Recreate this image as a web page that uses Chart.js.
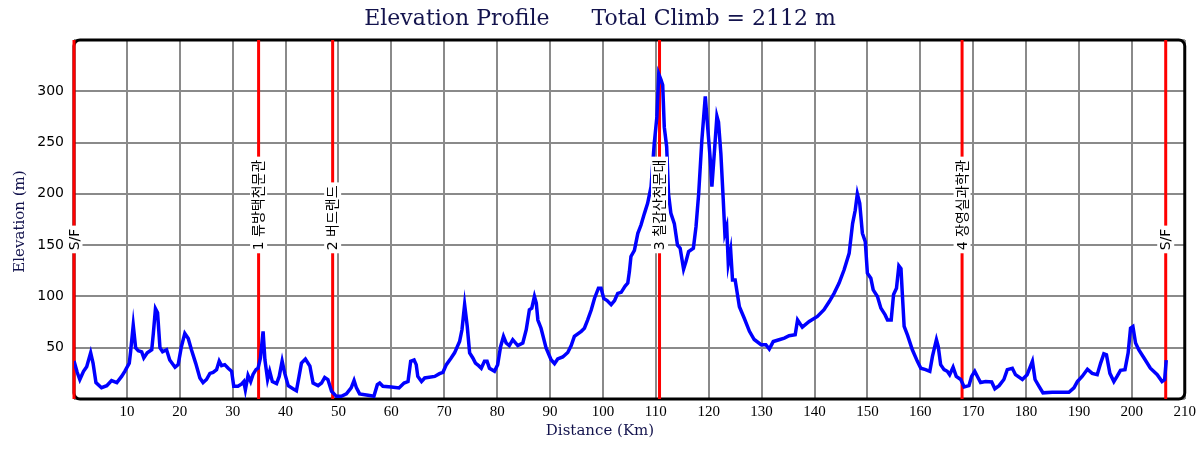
<!DOCTYPE html>
<html>
<head>
<meta charset="utf-8">
<script src="https://cdn.jsdelivr.net/npm/chart.js@4.4.1/dist/chart.umd.min.js"></script>
<style>
html,body{margin:0;padding:0;background:#fff;}
#wrap{width:1200px;height:450px;}
</style>
</head>
<body>
<div id="wrap"><canvas id="c" width="1200" height="450"></canvas></div>
<script>
const distanceKm = [0,0.6,1.1,1.8,2.4,3.15,3.6,4.15,5.2,6.2,7.1,8.1,9.0,9.6,10.45,10.7,11.2,11.65,12.15,12.8,13.2,13.85,14.7,15.0,15.4,15.8,16.25,16.75,17.5,18.1,19.1,19.7,20.3,20.95,21.6,22.2,23.0,23.8,24.4,25.05,25.7,26.3,26.95,27.45,27.9,28.5,29.15,29.8,30.2,31.0,31.7,32.1,32.4,32.9,33.4,33.85,34.4,34.8,35.25,35.75,36.1,36.6,37.0,37.5,38.3,38.8,39.35,39.85,40.5,41.4,42.05,42.55,43.0,43.75,44.6,45.2,46.15,46.8,47.4,48.0,48.7,49.6,50.55,51.5,52.4,52.95,53.4,54.0,55.6,56.7,57.35,57.8,58.4,60.0,61.45,62.4,63.15,63.65,64.3,64.7,65.0,65.7,66.3,68.2,69.1,69.75,70.4,71.3,71.95,72.9,73.35,73.85,74.35,74.8,75.4,75.9,76.5,77.0,77.6,78.1,78.55,79.5,80.1,80.65,81.2,81.7,82.3,82.95,83.9,84.85,85.5,86.1,86.55,87.05,87.4,87.7,88.3,89.25,90.2,90.85,91.45,92.4,93.35,94.0,94.6,95.9,96.5,97.1,97.8,98.4,99.15,99.65,100.15,100.8,101.55,102.2,102.8,103.45,104.2,104.7,105.0,105.3,105.95,106.6,107.2,107.85,108.45,109.1,109.7,110.2,110.55,111.0,111.3,111.6,112.05,112.4,112.85,113.5,114.1,114.6,115.25,115.7,116.2,117.1,117.6,118.1,118.7,119.35,119.8,120.3,120.6,121.05,121.55,121.85,122.3,122.75,123.05,123.4,123.7,124.15,124.5,125.0,125.8,126.7,127.7,128.6,129.9,130.8,131.45,132.2,133.3,134.3,135.2,136.35,136.8,137.7,139.0,140.55,141.8,142.8,143.7,144.65,145.6,146.55,147.2,147.7,148.1,148.55,149.05,149.6,150.0,150.65,151.1,151.9,152.55,153.35,153.8,154.5,154.95,155.5,155.95,156.35,156.6,156.95,157.6,158.5,159.45,160.1,161.0,161.8,162.3,163.05,163.4,163.85,164.5,165.1,165.55,166.2,166.8,167.65,168.3,169.2,169.7,170.3,170.8,171.4,172.35,173.5,174.1,174.9,175.8,176.45,177.4,178.0,179.3,180.2,181.2,181.7,182.45,183.2,184.95,186.85,188.1,189.05,189.7,190.6,191.6,192.5,193.45,194.1,194.7,195.2,195.85,196.6,197.2,197.85,198.7,199.3,199.75,200.2,200.7,201.3,202.3,203.5,204.8,205.7,206.2,206.5];
const elevationM = [37,26,19,27,31.5,45,35,16,11,13,18,16,22,27,35,46,72,50,47,46,40,45,48,64,88,84,50,46,48,38,31,33.5,51,64,59,48,35,20.5,16,19,25,26,28.6,37,32.5,33.5,30,27,12.4,12.4,14.7,17,9,23,17,24,28.6,30,40,66,38,19,27,17,15,22,37,25,13,10,8,22,35,39,32,15.6,13,15.6,21,19,7.5,2.6,2.6,5,10.8,18,10.8,5,3.6,2.6,14,15.6,12.4,11.8,10.8,15.6,17,36.7,38,33.5,22,17,20.5,22,24.7,26,33.5,40,45,56,67.5,92,70.7,45,40,35,32.5,30,36.7,36.7,30,27,33.5,51,61,54.6,52,57.8,52,54.6,67.5,87,88.6,100,93.5,77,69,49.7,38.3,34.4,39,41,45.4,52,61,66,69,77,87,98,108,108,98,96,92,96,103,104,110,113,124,139,145,161.5,169.6,181,190.7,207,249,275,317,311,306,265,246,200,181,171,150,147,126.5,134,143.7,147,168,200,252,295,265,233,207,239,275.7,270,239,194,161.6,168,132,145,116,116,90,79,66,58,53,53,48.7,56,57.8,59.4,61.7,62.6,77,70,75.6,80.5,87,95,103,113,126,142,171,184,200,190.7,161.6,153.4,122.7,117.8,106.4,100,88.6,82,77,77,102,108,129.8,127,103,70.7,62,48,36.7,30,28.6,27,41.5,57.8,51,33.5,28.6,27,23.7,31,22,19,11.8,13,22,27,22,16,17,16.6,10,13,19,28.6,30,23.7,19,23.7,36.7,19,12.4,6,6.5,6.5,6.5,10.8,17,22,29,25,23.7,35,44,43,25,17,22,28,28.6,45,69,70.7,54.6,48,40,30,23.7,17,19,38];
const markerKm = [0, 34.9, 48.9, 110.7, 167.9, 206.4];
const markerLabels = ['S/F', '1 류방택천문관', '2 버드랜드', '3 칠갑산천문대', '4 장영실과학관', 'S/F'];
const xTicks = [10,20,30,40,50,60,70,80,90,100,110,120,130,140,150,160,170,180,190,200,210];
const yTicks = [50,100,150,200,250,300];
const titleText = 'Elevation Profile      Total Climb = 2112 m';
const xTitle = 'Distance (Km)';
const yTitle = 'Elevation (m)';

const points = distanceKm.map((d, i) => ({x: d, y: elevationM[i]}));
const NAVY = '#13134d';

const decor = {
  id: 'decor',
  beforeDatasetsDraw(chart) {
    const {ctx, chartArea: a, scales: {x, y}} = chart;
    ctx.save();
    // border
    ctx.strokeStyle = '#000';
    ctx.lineWidth = 3;
    ctx.beginPath();
    ctx.roundRect(a.left, a.top, a.right - a.left, a.bottom - a.top, 6);
    ctx.stroke();
    // red markers
    ctx.strokeStyle = '#ff0000';
    ctx.lineWidth = 3;
    markerKm.forEach(k => {
      const px = x.getPixelForValue(k);
      ctx.beginPath();
      ctx.moveTo(px, a.top);
      ctx.lineTo(px, a.bottom);
      ctx.stroke();
    });
    ctx.restore();
  },
  afterDatasetsDraw(chart) {
    const {ctx, scales: {x, y}} = chart;
    ctx.save();
    ctx.font = '14px "DejaVu Sans", "Noto Sans CJK KR", sans-serif';
    const base = y.getPixelForValue(145);
    markerKm.forEach((k, i) => {
      const px = x.getPixelForValue(k);
      const t = markerLabels[i];
      ctx.save();
      ctx.translate(px, base);
      ctx.rotate(-Math.PI / 2);
      const w = ctx.measureText(t).width;
      ctx.fillStyle = '#fff';
      ctx.fillRect(-3, -8.5, w + 6, 17);
      ctx.fillStyle = '#000';
      ctx.textAlign = 'left';
      ctx.textBaseline = 'middle';
      ctx.fillText(t, 0, 1);
      ctx.restore();
    });
    ctx.restore();
  },
  afterDraw(chart) {
    const {ctx, chartArea: a} = chart;
    ctx.save();
    ctx.fillStyle = NAVY;
    ctx.textAlign = 'center';
    ctx.textBaseline = 'middle';
    ctx.font = '22px "DejaVu Serif", serif';
    ctx.fillText(titleText, 600, 19);
    ctx.font = '15px "DejaVu Serif", serif';
    ctx.fillText(xTitle, 600, 431);
    ctx.translate(20, (a.top + a.bottom) / 2 + 2);
    ctx.rotate(-Math.PI / 2);
    ctx.fillText(yTitle, 0, 0);
    ctx.restore();
  }
};

new Chart(document.getElementById('c'), {
  type: 'line',
  data: {
    datasets: [{
      data: points,
      borderColor: '#0000ff',
      borderWidth: 3.5,
      pointRadius: 0,
      tension: 0,
      fill: false
    }]
  },
  options: {
    responsive: false,
    animation: false,
    parsing: false,
    layout: {padding: {left: 0, right: 14, top: 40, bottom: 0}},
    plugins: {legend: {display: false}, tooltip: {enabled: false}, title: {display: false}},
    scales: {
      x: {
        type: 'linear', min: 0, max: 210,
        afterFit(s) { s.height = 51; },
        afterBuildTicks(s) { s.ticks = [0].concat(xTicks).map(v => ({value: v})); },
        ticks: {
          padding: 4, color: '#000',
          font: {family: '"Liberation Serif", serif', size: 15},
          callback: v => (v === 0 ? '' : String(v))
        },
        grid: {color: '#8a8a8a', lineWidth: 2, drawTicks: false},
        border: {display: false}
      },
      y: {
        min: 0, max: 350,
        afterFit(s) { s.width = 74; },
        afterBuildTicks(s) { s.ticks = [0].concat(yTicks).concat([350]).map(v => ({value: v})); },
        ticks: {
          padding: 10, color: '#000',
          font: {family: '"DejaVu Sans", sans-serif', size: 14},
          callback: v => (v === 0 || v === 350 ? '' : String(v))
        },
        grid: {color: '#8a8a8a', lineWidth: 2, drawTicks: false},
        border: {display: false}
      }
    }
  },
  plugins: [decor]
});
</script>
</body>
</html>
